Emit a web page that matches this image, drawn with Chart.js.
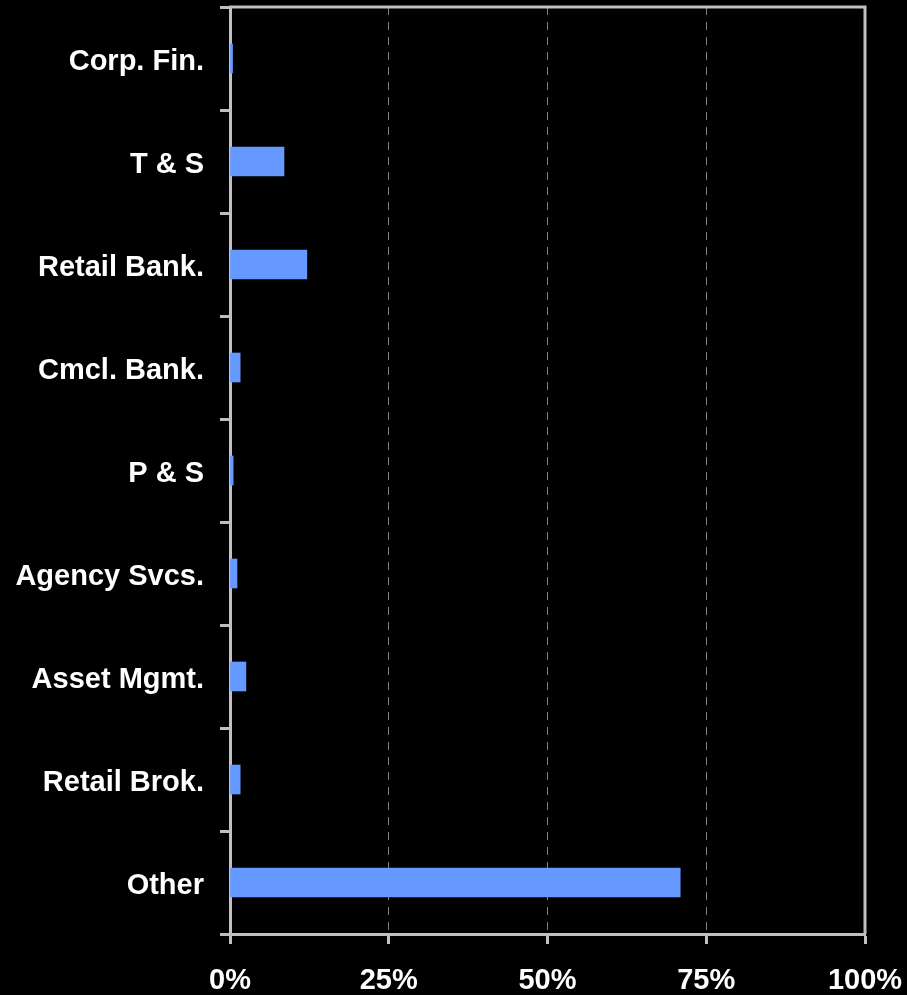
<!DOCTYPE html>
<html>
<head>
<meta charset="utf-8">
<script src="https://cdn.jsdelivr.net/npm/chart.js@4"></script>
<style>
  html, body { margin: 0; padding: 0; background: #000; }
  #wrap { width: 907px; height: 995px; }
</style>
</head>
<body>
<div id="wrap"><canvas id="barCanvas" width="907" height="995"></canvas></div>
<script>
const categories = ["Corp. Fin.", "T & S", "Retail Bank.", "Cmcl. Bank.", "P & S", "Agency Svcs.", "Asset Mgmt.", "Retail Brok.", "Other"];
const shares = [0.4, 8.5, 12.1, 1.6, 0.5, 1.1, 2.5, 1.6, 70.9];
const xTicks = [0, 25, 50, 75, 100];

// top + right edges of the plot box
const frame = {
  id: "frame",
  afterDraw(chart) {
    const a = chart.chartArea;
    const c = chart.ctx;
    c.save();
    c.strokeStyle = "#c0c0c0";
    c.lineWidth = 3;
    c.beginPath();
    c.moveTo(a.left - 1, a.top);
    c.lineTo(a.right, a.top);
    c.lineTo(a.right, a.bottom);
    c.stroke();
    c.restore();
  },
};

function barChart() {
  const ctx = document.getElementById("barCanvas").getContext("2d");

  new Chart(ctx, {
    type: "bar",
    data: {
      labels: categories,
      datasets: [
        {
          data: shares,
          backgroundColor: "#6699ff",
          barThickness: 29,
        },
      ],
    },
    options: {
      indexAxis: "y",
      responsive: false,
      animation: false,
      layout: { padding: { top: 7, right: 42, left: 0, bottom: 0 } },
      plugins: {
        legend: { display: false },
        tooltip: { enabled: false },
      },
      scales: {
        x: {
          min: 0,
          max: 100,
          afterBuildTicks: (s) => { s.ticks = xTicks.map((v) => ({ value: v })); },
          afterFit: (s) => {
            s.height = 61;
            s.paddingLeft = 0;
            s.paddingRight = 0;
          },
          border: { color: "#c0c0c0", width: 3, dash: [8, 7] },
          grid: {
            color: (c) => (c.tick && c.tick.value > 0 && c.tick.value < 100 ? "#808080" : "rgba(0,0,0,0)"),
            tickColor: "#c0c0c0",
            tickWidth: 3,
            tickLength: 10,
            lineWidth: 1,
          },
          ticks: {
            color: "#fff",
            padding: 20,
            font: { family: "Liberation Sans, Arial", size: 29, weight: "bold" },
            callback: (v) => v + "%",
          },
        },
        y: {
          afterFit: (s) => {
            s.width = 230;
            s.paddingTop = 0;
            s.paddingBottom = 0;
          },
          border: { color: "#c0c0c0", width: 3 },
          grid: {
            offset: true,
            drawOnChartArea: false,
            tickColor: "#c0c0c0",
            tickWidth: 3,
            tickLength: 10,
          },
          ticks: {
            color: "#fff",
            padding: 16,
            labelOffset: 3,
            font: { family: "Liberation Sans, Arial", size: 29, weight: "bold" },
          },
        },
      },
    },
    plugins: [frame],
  });
}

barChart();
</script>
</body>
</html>
